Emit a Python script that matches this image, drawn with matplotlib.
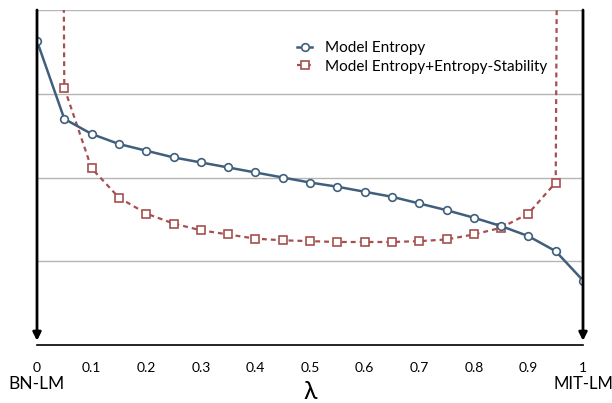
import matplotlib
matplotlib.use("Agg")
import matplotlib.pyplot as plt
import numpy as np

lam = [0.0, 0.05, 0.1, 0.15, 0.2, 0.25, 0.3, 0.35, 0.4, 0.45, 0.5,
       0.55, 0.6, 0.65, 0.7, 0.75, 0.8, 0.85, 0.9, 0.95, 1.0]
model_entropy = [3.63, 2.70, 2.52, 2.40, 2.32, 2.24, 2.18, 2.12, 2.06, 2.00, 1.94,
                 1.89, 1.83, 1.77, 1.69, 1.61, 1.52, 1.42, 1.30, 1.12, 0.77]
# endpoints diverge (off the chart)
entropy_stability = [60.0, 3.07, 2.11, 1.76, 1.57, 1.45, 1.37, 1.32, 1.27, 1.25, 1.24,
                     1.23, 1.23, 1.23, 1.24, 1.26, 1.32, 1.40, 1.57, 1.94, 60.0]
xtick_vals = [0, 0.1, 0.2, 0.3, 0.4, 0.5, 0.6, 0.7, 0.8, 0.9, 1]
xtick_labels = ["0", "0.1", "0.2", "0.3", "0.4", "0.5", "0.6", "0.7", "0.8", "0.9", "1"]
series_names = ["Model Entropy", "Model Entropy+Entropy-Stability"]

plt.rcParams['font.family'] = ['Lato', 'DejaVu Sans']

blue = "#3f5f7d"
red = "#a5504f"

fig = plt.figure(figsize=(6.12, 4.03), dpi=100)
ax = fig.add_axes([37/612, 1-345/403, 546/612, 335/403])
ax.set_xlim(0, 1)
ax.set_ylim(0, 4)

for g in [1, 2, 3, 4]:
    ax.axhline(g, color="#b5b5b5", lw=1.0, zorder=0)

ax.plot(lam, model_entropy, color=blue, lw=1.8, marker="o", ms=5.5,
        mfc="white", mec=blue, mew=1.2, label=series_names[0], zorder=3)
ax.plot(lam, entropy_stability, color=red, lw=1.6, ls=(0, (2.2, 1.8)), marker="s", ms=5.5,
        mfc="white", mec=red, mew=1.2, label=series_names[1], zorder=2)

for s in ["top", "right", "left"]:
    ax.spines[s].set_visible(False)
ax.spines["bottom"].set_color("black")
ax.spines["bottom"].set_linewidth(1.2)

for xv in [0, 1]:
    ax.annotate("", xy=(xv, 0.05), xytext=(xv, 4.0), xycoords="data",
                arrowprops=dict(arrowstyle="-|>", color="black", lw=2.0,
                                mutation_scale=12, shrinkA=0, shrinkB=0),
                zorder=4, annotation_clip=False)

ax.set_yticks([])
ax.set_xticks(xtick_vals)
ax.set_xticklabels(xtick_labels, fontsize=10)
ax.tick_params(axis="x", length=0, pad=12)

ax.text(0, -0.47, "BN-LM", ha="center", va="center", fontsize=12.5)
ax.text(1.0, -0.47, "MIT-LM", ha="center", va="center", fontsize=12)
ax.text(0.5, -0.55, "λ", ha="center", va="center", fontsize=18)

leg = ax.legend(loc="upper left", bbox_to_anchor=(0.465, 0.925), frameon=False,
                fontsize=11, handlelength=1.0, handletextpad=0.8, labelspacing=0.3,
                borderaxespad=0)

fig.savefig("out.png", dpi=100)
